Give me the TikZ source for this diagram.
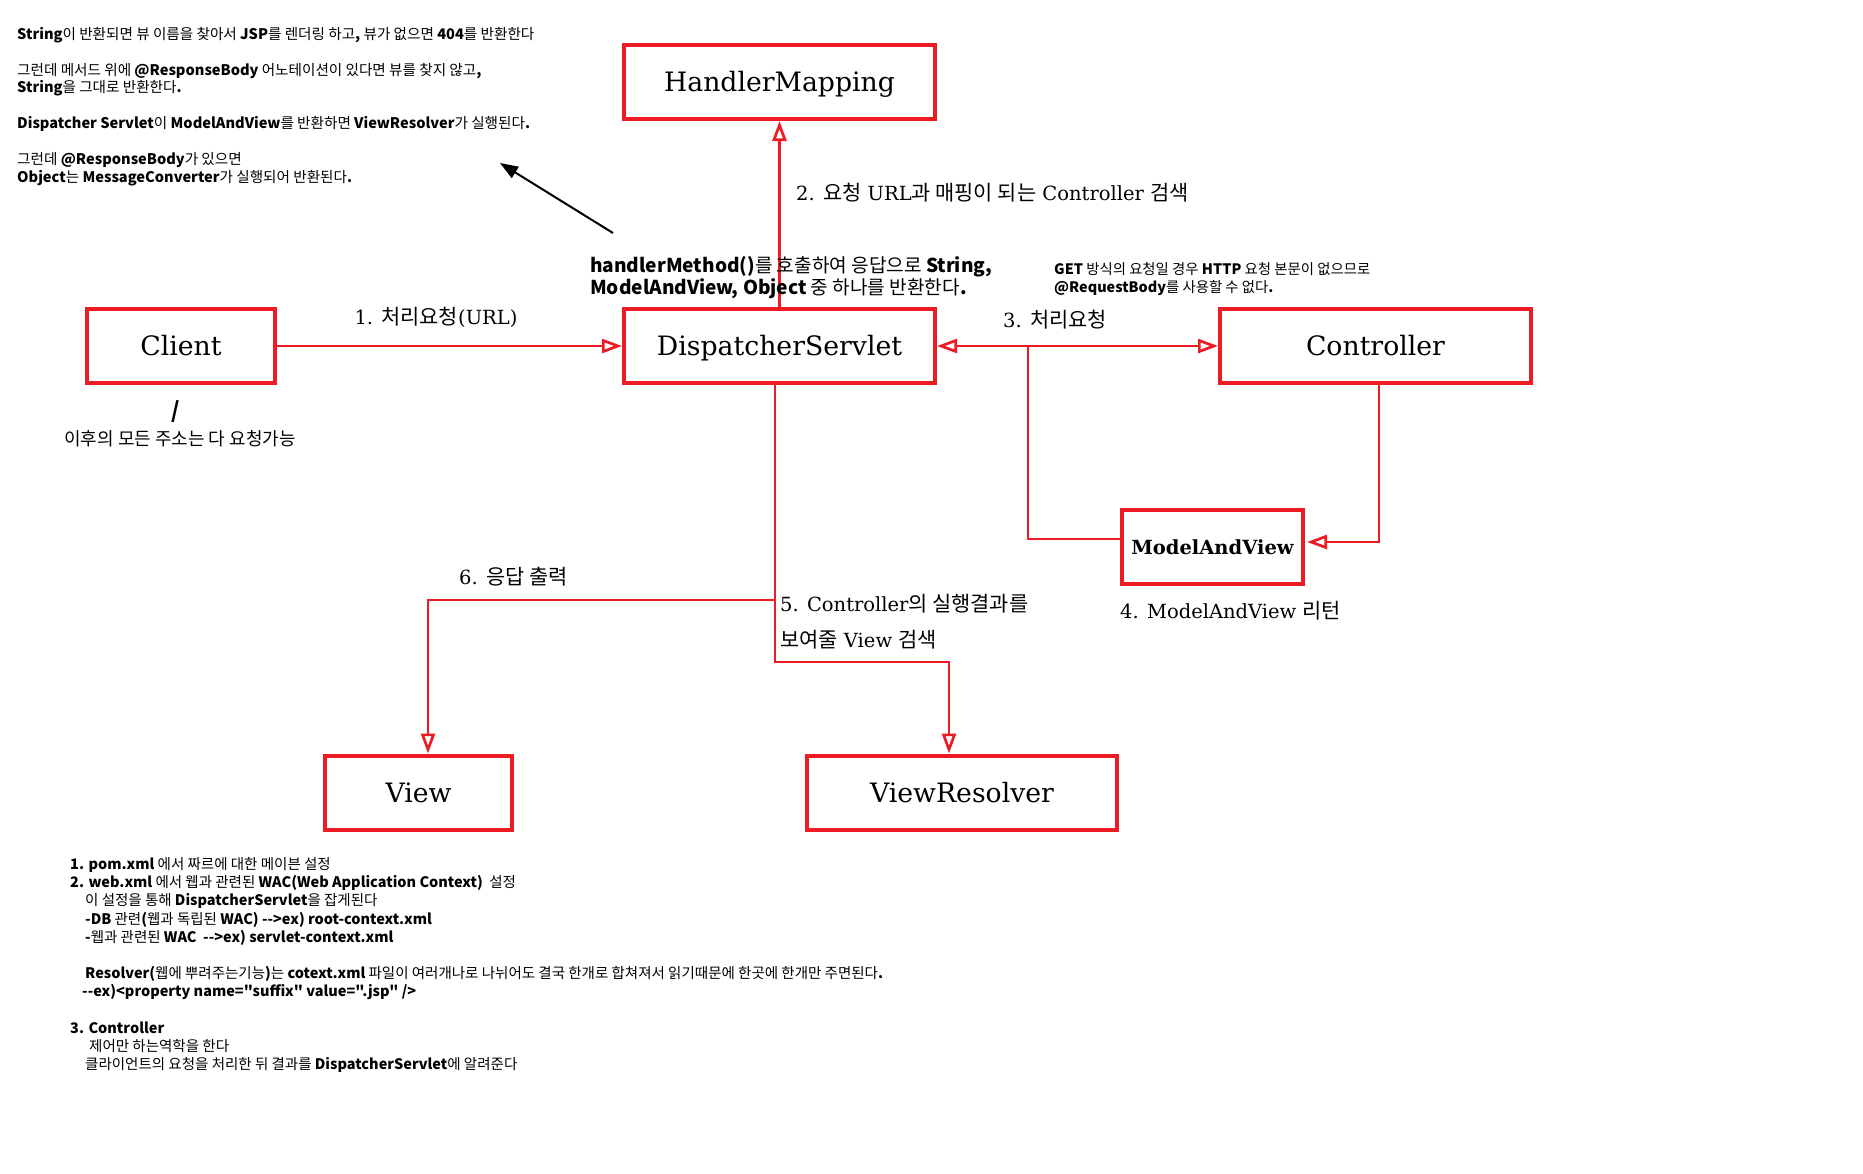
\documentclass[tikz,border=0pt]{standalone}
\usepackage{fontspec}
\setmainfont{DejaVu Serif}
\newfontfamily\krfont{Noto Sans CJK KR}
\newfontfamily\krwide{Noto Sans CJK KR}[Scale=1.07]
\usepackage{xcolor}
\usetikzlibrary{arrows.meta}
\definecolor{boxred}{RGB}{237,28,36}
\newcommand{\kor}[1]{{\krwide #1}}

\begin{document}
\begin{tikzpicture}[x=1pt, y=-1pt,
    block/.style={draw=boxred, line width=4pt, minimum height=74pt, inner sep=0pt,
        text height=19.5pt, text depth=0pt, font=\fontsize{26.7}{32}\selectfont},
    flow/.style={draw=boxred, line width=2.7pt},
    openhead/.style={-{Triangle[open, length=20pt, width=14pt]}},
    openboth/.style={{Triangle[open, length=20pt, width=14pt]}-{Triangle[open, length=20pt, width=14pt]}},
    flowtext/.style={font=\fontsize{19.5}{36}\selectfont, inner sep=0pt},
    note/.style={font=\krfont\fontsize{14.6}{17.9}\selectfont, align=left, inner sep=0pt}]
    % Page
    \fill[white] (0,0) rectangle (1863,1173);
    \useasboundingbox (0,0) rectangle (1863,1173);

    % Boxes
    \node[block, minimum width=188pt] (client) at (181,346) {Client};
    \node[block, minimum width=311pt] (hm) at (779.5,82) {HandlerMapping};
    \node[block, minimum width=311pt] (ds) at (779.5,346) {DispatcherServlet};
    \node[block, minimum width=311pt] (ctrl) at (1375.5,346) {Controller};
    \node[block, minimum width=181pt, text height=14.5pt, font=\bfseries\fontsize{19.5}{24}\selectfont] (mav) at (1212.5,547) {ModelAndView};
    \node[block, minimum width=187pt] (view) at (418.5,792.5) {View};
    \node[block, minimum width=310pt] (vr) at (962,792.5) {ViewResolver};

    % Bends
    \coordinate (mavjoin) at (1028,346);
    \coordinate (vrbend) at (949,662);
    \coordinate (viewsplit) at (775,600);

    % Flow
    \draw[flow, openhead] (client) -- (ds);
    \draw[flow, openhead] (ds.north) -- (hm.south);
    \draw[flow, openboth] (ds) -- (ctrl);
    \draw[flow] (mavjoin) |- ([yshift=8pt]mav.west);
    \draw[flow, openhead] ([xshift=3.5pt]ctrl.south) |- ([xshift=2pt, yshift=5pt]mav.east);
    \draw[flow, openhead] ([xshift=-4.5pt]ds.south) |- (vrbend) -- ([xshift=-13pt]vr.north);
    \draw[flow, openhead] (viewsplit) -| ([xshift=9.5pt]view.north);

    % Step labels
    \node[flowtext] (lbl1) at (436,317) {1. \kor{처리요청}(URL)};
    \node[flowtext, anchor=west] (lbl2) at (796,193) {2. \kor{요청} URL\kor{과 매핑이 되는} Controller \kor{검색}};
    \node[flowtext, anchor=west] (lbl3) at (1003,320) {3. \kor{처리요청}};
    \node[flowtext, anchor=west] (lbl4) at (1120,611) {4. ModelAndView \kor{리턴}};
    \node[flowtext, anchor=west] (lbl5a) at (780,604) {5. Controller\kor{의 실행결과를}};
    \node[flowtext, anchor=west] (lbl5b) at (780,640) {\kor{보여줄} View \kor{검색}};
    \node[flowtext, anchor=west] (lbl6) at (459,577) {6. \kor{응답 출력}};

    % Root mapping
    \node[font=\krfont\bfseries\fontsize{22}{22}\selectfont, inner sep=0pt] (slash) at (176,412) {/};
    \node[note, font=\krfont\fontsize{18}{20}\selectfont] (rootnote) at (180,439) {이후의 모든 주소는 다 요청가능};

    % Notes
    \node[note, font=\krfont\fontsize{19.1}{22}\selectfont, anchor=west] (hmnote) at (590,278)
        {\textbf{handlerMethod()}를 호출하여 응답으로 \textbf{String,}\\
         \textbf{ModelAndView, Object} 중 하나를 반환한다\textbf{.}};
    \node[note, font=\krfont\fontsize{14.4}{18}\selectfont, anchor=west] (getnote) at (1054,279)
        {\textbf{GET} 방식의 요청일 경우 \textbf{HTTP} 요청 본문이 없으므로\\
         \textbf{@RequestBody}를 사용할 수 없다\textbf{.}};
    \node[note, anchor=west] (topnote) at (17,106.5)
        {\textbf{String}이 반환되면 뷰 이름을 찾아서 \textbf{JSP}를 렌더링 하고\textbf{,} 뷰가 없으면 \textbf{404}를 반환한다\\[17.9pt]
         그런데 메서드 위에 \textbf{@ResponseBody} 어노테이션이 있다면 뷰를 찾지 않고\textbf{,}\\
         \textbf{String}을 그대로 반환한다\textbf{.}\\[17.9pt]
         \textbf{Dispatcher Servlet}이 \textbf{ModelAndView}를 반환하면 \textbf{ViewResolver}가 실행된다\textbf{.}\\[17.9pt]
         그런데 \textbf{@ResponseBody}가 있으면\\
         \textbf{Object}는 \textbf{MessageConverter}가 실행되어 반환된다\textbf{.}};
    \node[note, font=\krfont\fontsize{14.5}{18.2}\selectfont, anchor=west] (setupnote) at (70,965)
        {\textbf{1. pom.xml} 에서 짜르에 대한 메이븐 설정\\
         \textbf{2. web.xml} 에서 웹과 관련된 \textbf{WAC(Web Application Context)}~~설정\\
         \hspace*{15pt}이 설정을 통해 \textbf{DispatcherServlet}을 잡게된다\\
         \hspace*{15pt}\textbf{-DB} 관련\textbf{(}웹과 독립된 \textbf{WAC) -{}->ex) root-context.xml}\\
         \hspace*{15pt}\textbf{-}웹과 관련된 \textbf{WAC~~-{}->ex) servlet-context.xml}\\[18.2pt]
         \hspace*{15pt}\textbf{Resolver(}웹에 뿌려주는기능\textbf{)}는 \textbf{cotext.xml} 파일이 여러개나로 나뉘어도 결국 한개로 합쳐져서 읽기때문에 한곳에 한개만 주면된다\textbf{.}\\
         \hspace*{12pt}\textbf{-{}-ex)<property name="suffix" value=".jsp" />}\\[18.2pt]
         \textbf{3. Controller}\\
         \hspace*{19pt}제어만 하는역학을 한다\\
         \hspace*{15pt}클라이언트의 요청을 처리한 뒤 결과를 \textbf{DispatcherServlet}에 알려준다};

    % Pointer to the notes
    \coordinate (notetail) at (613,233);
    \coordinate (notetip) at (500,163);
    \draw[line width=2pt, -{Triangle[length=18pt, width=13pt]}] (notetail) -- (notetip);
\end{tikzpicture}
\end{document}
